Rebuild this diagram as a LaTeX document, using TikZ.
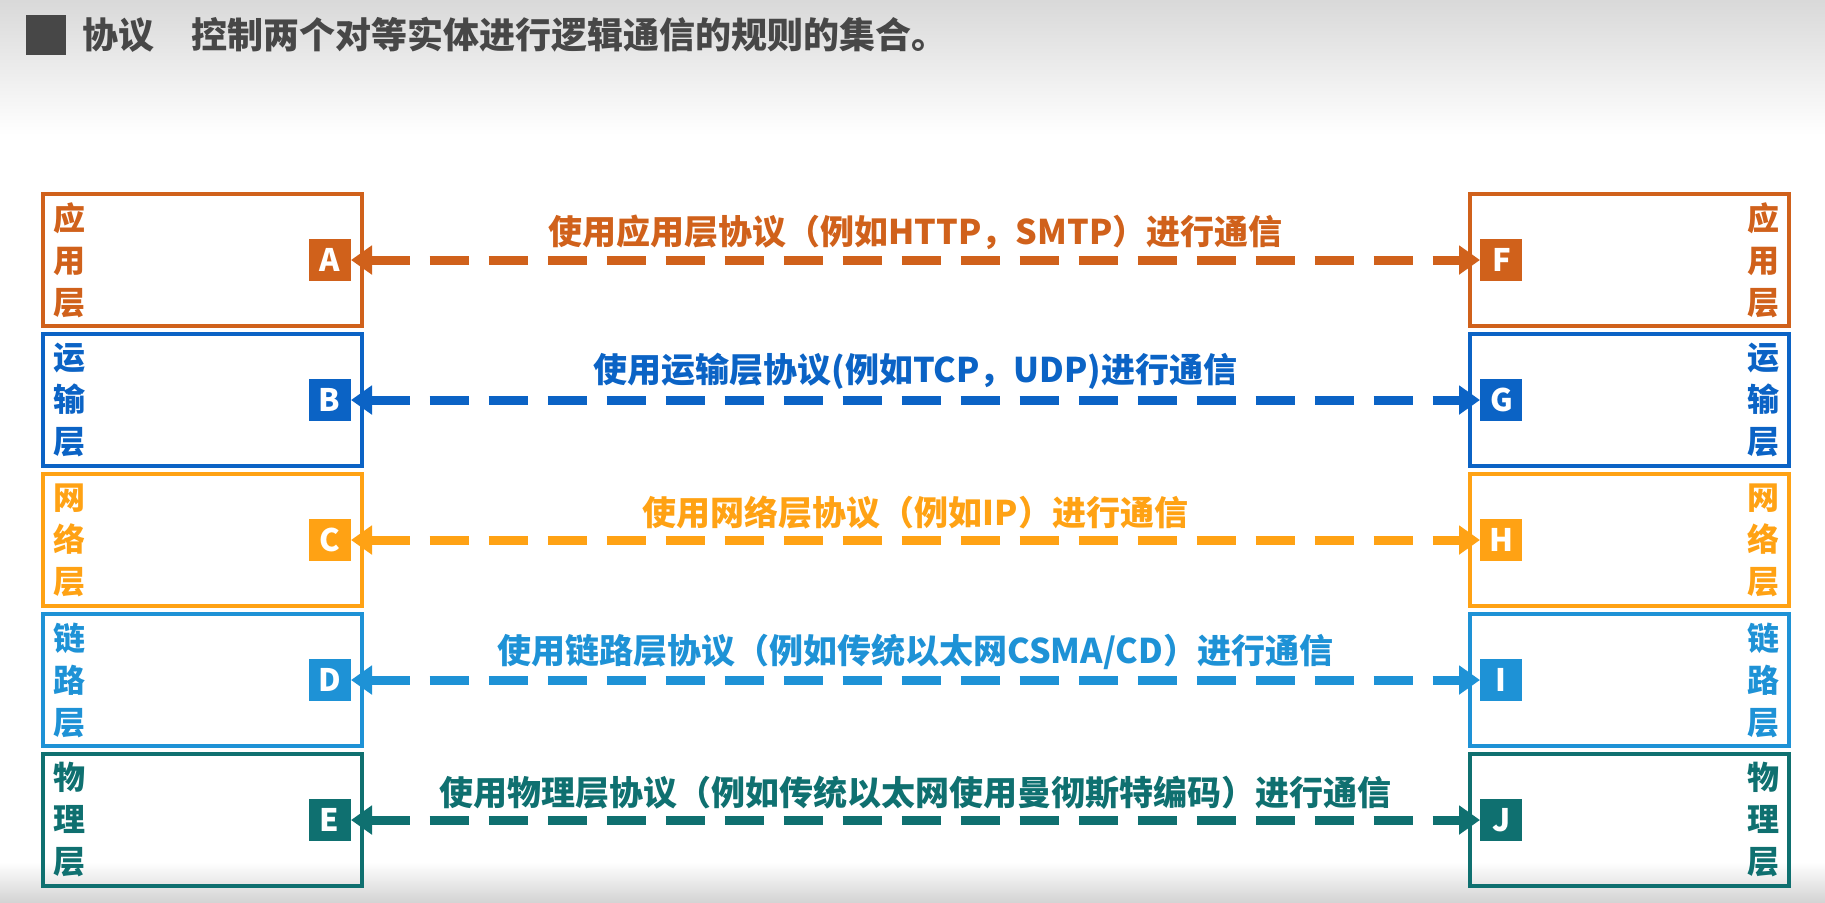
\documentclass[tikz,border=0pt]{standalone}
\usepackage{fontspec}
\usepackage{xcolor}
\usepackage{tikz}
\usetikzlibrary{arrows.meta,positioning}
\newfontfamily\cjk{Noto Sans CJK SC}
\definecolor{AppOrange}{HTML}{D0611B}
\definecolor{TransBlue}{HTML}{0B63C5}
\definecolor{NetAmber}{HTML}{FFA214}
\definecolor{LinkBlue}{HTML}{1E92D6}
\definecolor{PhyTeal}{HTML}{0F7070}
\definecolor{TitleGray}{HTML}{474747}
\tikzset{
  leftlayer/.style={draw=#1,line width=2pt,text=#1,minimum height=66pt,
              text width=149.5pt,inner xsep=5pt,inner ysep=0pt,align=left,
              font=\cjk\bfseries\fontsize{16pt}{21pt}\selectfont},
  rightlayer/.style={leftlayer=#1,align=right},
  tag/.style={fill=#1,text=white,minimum size=21pt,inner sep=0pt,
              font=\cjk\bfseries\fontsize{15.5pt}{15.5pt}\selectfont},
  proto/.style={draw=#1,line width=4.5pt,dash pattern=on 19.5pt off 10pt,
              {Triangle[length=10.5pt,width=14pt]}-{Triangle[length=10.5pt,width=14pt]}},
  protolabel/.style={text=#1,inner sep=0pt,above=3pt,
              font=\cjk\bfseries\fontsize{17pt}{17pt}\selectfont},
  titletext/.style={text=TitleGray,inner sep=0pt,
              font=\cjk\bfseries\fontsize{18pt}{18pt}\selectfont}
}
\begin{document}
\begin{tikzpicture}[x=0.5pt,y=-0.5pt]
  \useasboundingbox (0,0) rectangle (1825,902);
  \shade[top color=black!15,bottom color=white] (0,0) rectangle (1825,135);
  \shade[top color=white,bottom color=black!17] (0,862) rectangle (1825,902);

  % title line
  \node[fill=TitleGray,minimum size=20pt,inner sep=0pt] (mark) at (46,35) {};
  \node[titletext,right=8pt of mark] (term) {协议};
  \node[titletext,right=18pt of term] (defn) {控制两个对等实体进行逻辑通信的规则的集合。};

  % left stack
  \node[leftlayer=AppOrange] (appL) at (202.5,260) {应\\用\\层};
  \node[leftlayer=TransBlue,below=2pt of appL] (transL) {运\\输\\层};
  \node[leftlayer=NetAmber,below=2pt of transL] (netL) {网\\络\\层};
  \node[leftlayer=LinkBlue,below=2pt of netL] (linkL) {链\\路\\层};
  \node[leftlayer=PhyTeal,below=2pt of linkL] (phyL) {物\\理\\层};

  % right stack
  \node[rightlayer=AppOrange,right=552pt of appL] (appR) {应\\用\\层};
  \node[rightlayer=TransBlue,below=2pt of appR] (transR) {运\\输\\层};
  \node[rightlayer=NetAmber,below=2pt of transR] (netR) {网\\络\\层};
  \node[rightlayer=LinkBlue,below=2pt of netR] (linkR) {链\\路\\层};
  \node[rightlayer=PhyTeal,below=2pt of linkR] (phyR) {物\\理\\层};

  % entity tags
  \node[tag=AppOrange,left=6.5pt of appL.east] (A) {A};
  \node[tag=TransBlue,left=6.5pt of transL.east] (B) {B};
  \node[tag=NetAmber,left=6.5pt of netL.east] (C) {C};
  \node[tag=LinkBlue,left=6.5pt of linkL.east] (D) {D};
  \node[tag=PhyTeal,left=6.5pt of phyL.east] (E) {E};
  \node[tag=AppOrange,right=6pt of appR.west] (F) {F};
  \node[tag=TransBlue,right=6pt of transR.west] (G) {G};
  \node[tag=NetAmber,right=6pt of netR.west] (H) {H};
  \node[tag=LinkBlue,right=6pt of linkR.west] (I) {I};
  \node[tag=PhyTeal,right=6pt of phyR.west] (J) {J};

  % peer protocols
  \draw[proto=AppOrange] (A) -- node[protolabel=AppOrange]{使用应用层协议（例如HTTP，SMTP）进行通信} (F);
  \draw[proto=TransBlue] (B) -- node[protolabel=TransBlue]{使用运输层协议(例如TCP，UDP)进行通信} (G);
  \draw[proto=NetAmber] (C) -- node[protolabel=NetAmber]{使用网络层协议（例如IP）进行通信} (H);
  \draw[proto=LinkBlue] (D) -- node[protolabel=LinkBlue]{使用链路层协议（例如传统以太网CSMA/CD）进行通信} (I);
  \draw[proto=PhyTeal] (E) -- node[protolabel=PhyTeal]{使用物理层协议（例如传统以太网使用曼彻斯特编码）进行通信} (J);
\end{tikzpicture}
\end{document}
